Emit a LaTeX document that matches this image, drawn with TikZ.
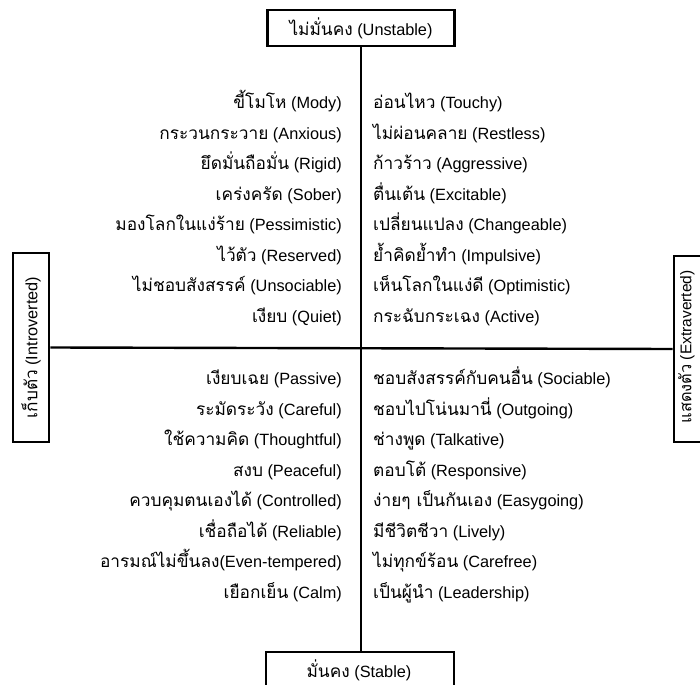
\documentclass[tikz,border=0pt]{standalone}
\usepackage{fontspec}
\setmainfont{Liberation Sans}
\newfontfamily\thaifont[Script=Thai,Scale=1.06]{Loma}
\newcommand\tha[1]{{\thaifont #1}}
\begin{document}
\begin{tikzpicture}[x=1pt,y=-1pt,
  font=\fontsize{16.3}{19}\selectfont,
  box/.style={draw=black,line width=2.6pt,inner sep=0pt},
  axis/.style={draw=black,line width=2.4pt},
  lt/.style={anchor=base east,inner sep=0pt},
  rt/.style={anchor=base west,inner sep=0pt}]
\useasboundingbox (0,0) rectangle (700,684);
\clip (0,0) rectangle (700,684);
\fill[white] (0,0) rectangle (700,684);
% boxes
\node[box,minimum width=187pt,minimum height=36pt] (top) at (361,28) {\tha{ไม่มั่นคง} (Unstable)};
\node[box,minimum width=188pt,minimum height=50pt] (bot) at (360,677) {};
\node[inner sep=0pt] (bottxt) at (359,670) {\tha{มั่นคง} (Stable)};
\node[box,rotate=90,minimum width=189pt,minimum height=36pt] (lbox) at (31,347.5) {\tha{เก็บตัว} (Introverted)};
\node[box,rotate=90,minimum width=186pt,minimum height=36pt] (rbox) at (692,349) {};
\node[rotate=90,inner sep=0pt] (rtxt) at (686.5,347) {\fontsize{15.5}{18}\selectfont\tha{แสดงตัว} (Extraverted)};
% axes
\draw[axis] (top.south) -- (top.south |- bot.north);
\draw[axis] (lbox.south) -- (rbox.north);
% top-left
\node[lt] (a1) at (342,108.5) {\tha{ขี้โมโห} (Mody)};
\node[lt] (a2) at (342,139.1) {\tha{กระวนกระวาย} (Anxious)};
\node[lt] (a3) at (342,169.6) {\tha{ยึดมั่นถือมั่น} (Rigid)};
\node[lt] (a4) at (342,200.2) {\tha{เคร่งครัด} (Sober)};
\node[lt] (a5) at (342,230.8) {\tha{มองโลกในแง่ร้าย} (Pessimistic)};
\node[lt] (a6) at (342,261.4) {\tha{ไว้ตัว} (Reserved)};
\node[lt] (a7) at (342,291.9) {\tha{ไม่ชอบสังสรรค์} (Unsociable)};
\node[lt] (a8) at (342,322.5) {\tha{เงียบ} (Quiet)};
% top-right
\node[rt] (b1) at (373,108.5) {\tha{อ่อนไหว} (Touchy)};
\node[rt] (b2) at (373,139.1) {\tha{ไม่ผ่อนคลาย} (Restless)};
\node[rt] (b3) at (373,169.6) {\tha{ก้าวร้าว} (Aggressive)};
\node[rt] (b4) at (373,200.2) {\tha{ตื่นเต้น} (Excitable)};
\node[rt] (b5) at (373,230.8) {\tha{เปลี่ยนแปลง} (Changeable)};
\node[rt] (b6) at (373,261.4) {\tha{ย้ำคิดย้ำทำ} (Impulsive)};
\node[rt] (b7) at (373,291.9) {\tha{เห็นโลกในแง่ดี} (Optimistic)};
\node[rt] (b8) at (373,322.5) {\tha{กระฉับกระเฉง} (Active)};
% bottom-left
\node[lt] (c1) at (342,384.5) {\tha{เงียบเฉย} (Passive)};
\node[lt] (c2) at (342,415.1) {\tha{ระมัดระวัง} (Careful)};
\node[lt] (c3) at (342,445.6) {\tha{ใช้ความคิด} (Thoughtful)};
\node[lt] (c4) at (342,476.2) {\tha{สงบ} (Peaceful)};
\node[lt] (c5) at (342,506.8) {\tha{ควบคุมตนเองได้} (Controlled)};
\node[lt] (c6) at (342,537.4) {\tha{เชื่อถือได้} (Reliable)};
\node[lt] (c7) at (342,567.9) {\tha{อารมณ์ไม่ขึ้นลง}(Even-tempered)};
\node[lt] (c8) at (342,598.5) {\tha{เยือกเย็น} (Calm)};
% bottom-right
\node[rt] (d1) at (373,384.5) {\tha{ชอบสังสรรค์กับคนอื่น} (Sociable)};
\node[rt] (d2) at (373,415.1) {\tha{ชอบไปโน่นมานี่} (Outgoing)};
\node[rt] (d3) at (373,445.6) {\tha{ช่างพูด} (Talkative)};
\node[rt] (d4) at (373,476.2) {\tha{ตอบโต้} (Responsive)};
\node[rt] (d5) at (373,506.8) {\tha{ง่ายๆ เป็นกันเอง} (Easygoing)};
\node[rt] (d6) at (373,537.4) {\tha{มีชีวิตชีวา} (Lively)};
\node[rt] (d7) at (373,567.9) {\tha{ไม่ทุกข์ร้อน} (Carefree)};
\node[rt] (d8) at (373,598.5) {\tha{เป็นผู้นำ} (Leadership)};
\end{tikzpicture}
\end{document}
